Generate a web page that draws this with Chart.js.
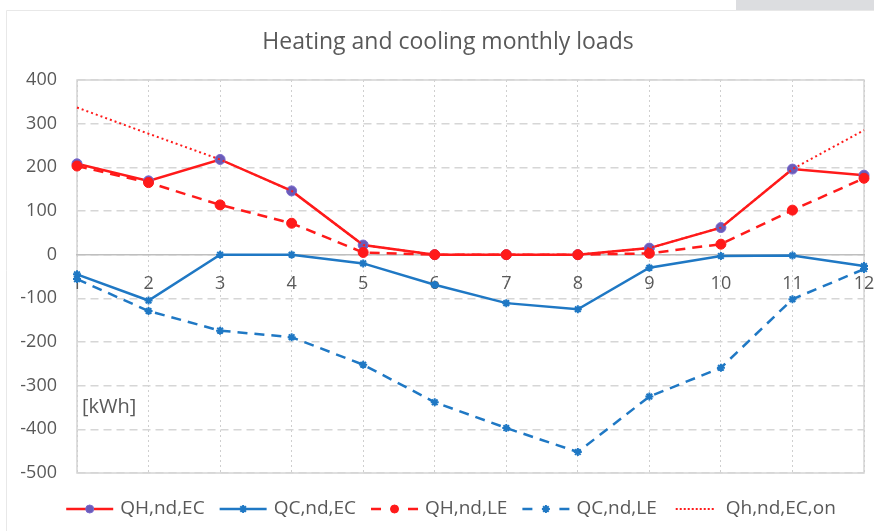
<!DOCTYPE html>
<html>
<head>
<meta charset="utf-8">
<script src="https://cdn.jsdelivr.net/npm/chart.js@4.4.1/dist/chart.umd.min.js"></script>
<style>
  html, body { margin: 0; padding: 0; background: #ffffff; }
  #wrap { width: 874px; height: 531px; position: relative; }
</style>
</head>
<body>
<div id="wrap"><canvas id="c" width="874" height="531"></canvas></div>
<script>
const months = ['1','2','3','4','5','6','7','8','9','10','11','12'];
const qhEC   = [208, 169, 218, 146, 22, 0, 0, 0, 15, 62, 196, 182];
const qcEC   = [-45, -105, 0, 0, -20, -69, -111, -125, -30, -3, -2, -26];
const qhLE   = [203, 165, 114, 72, 5, 0, 0, 0, 3, 24, 102, 175];
const qcLE   = [-56, -129, -174, -189, -252, -338, -397, -452, -325, -259, -102, -33];
const qhECon = [337, 277, 218, 146, 22, 0, 0, 0, 15, 62, 196, 285];
const seriesNames = ['QH,nd,EC', 'QC,nd,EC', 'QH,nd,LE', 'QC,nd,LE', 'Qh,nd,EC,on'];
const titleText = 'Heating and cooling monthly loads';
const unitText = '[kWh]';

const RED = '#ff1a1a';
const BLUE = '#1f78c4';
const PURPLE = '#6a5cb8';
const TXT = '#595959';
const FONT = '"Open Sans"';

const frame = {
  id: 'frame',
  beforeDraw(chart) {
    const {ctx, chartArea: a} = chart;
    ctx.save();
    ctx.fillStyle = '#ffffff';
    ctx.fillRect(0, 0, chart.width, chart.height);
    ctx.fillStyle = '#dcdde0';
    ctx.fillRect(736, 0, 138, 10);
    ctx.strokeStyle = '#e8e8e8';
    ctx.lineWidth = 1;
    ctx.beginPath();
    ctx.moveTo(6.5, 10.5); ctx.lineTo(6.5, chart.height);
    ctx.moveTo(6.5, 10.5); ctx.lineTo(chart.width, 10.5);
    ctx.stroke();
    // plot-area frame, under the scales so tick labels stay on top
    ctx.strokeStyle = '#d4d4d4';
    ctx.lineWidth = 1.5;
    ctx.strokeRect(a.left, a.top, a.right - a.left, a.bottom - a.top);
    ctx.fillStyle = TXT;
    ctx.font = '23px ' + FONT;
    ctx.textAlign = 'center';
    ctx.textBaseline = 'middle';
    ctx.fillText(titleText, 448, 42);
    ctx.restore();
  },
  beforeDatasetsDraw(chart) {
    const {ctx, chartArea: a, scales} = chart;
    ctx.save();
    ctx.fillStyle = TXT;
    ctx.font = '20px ' + FONT;
    ctx.textBaseline = 'middle';
    ctx.textAlign = 'left';
    ctx.fillText(unitText, a.left + 5, scales.y.getPixelForValue(-350));
    ctx.restore();
  },
  afterDraw(chart) {
    const ctx = chart.ctx;
    const items = chart.data.datasets;
    ctx.save();
    ctx.font = '19px ' + FONT;
    const sampleW = 47, gapST = 7, gapItem = 15;
    const widths = items.map(ds => sampleW + gapST + ctx.measureText(ds.label).width);
    const total = widths.reduce((s, w) => s + w, 0) + gapItem * (widths.length - 1);
    let x = 451 - total / 2;
    const y = 509;
    items.forEach((ds, k) => {
      ctx.strokeStyle = ds.borderColor;
      ctx.lineWidth = 2.5;
      ctx.setLineDash([]);
      if (ds.legendKind === 'solid') {
        ctx.beginPath(); ctx.moveTo(x, y); ctx.lineTo(x + sampleW, y); ctx.stroke();
      } else if (ds.legendKind === 'dash') {
        ctx.beginPath();
        ctx.moveTo(x, y); ctx.lineTo(x + 10, y);
        ctx.moveTo(x + sampleW - 10, y); ctx.lineTo(x + sampleW, y);
        ctx.stroke();
      } else {
        ctx.lineWidth = 2;
        ctx.setLineDash([2, 2]);
        ctx.beginPath(); ctx.moveTo(x + 4, y); ctx.lineTo(x + sampleW - 4, y); ctx.stroke();
        ctx.setLineDash([]);
      }
      if (ds.pointStyle && ds.pointRadius > 0) {
        ctx.fillStyle = ds.pointBackgroundColor;
        ctx.strokeStyle = ds.pointBorderColor;
        ctx.lineWidth = ds.pointBorderWidth || 1.5;
        Chart.helpers.drawPoint(ctx, {pointStyle: ds.pointStyle, rotation: 0, radius: 4, borderWidth: ds.pointBorderWidth || 1.5}, x + sampleW / 2, y);
      }
      ctx.fillStyle = TXT;
      ctx.textAlign = 'left';
      ctx.textBaseline = 'middle';
      ctx.fillText(ds.label, x + sampleW + gapST, y);
      x += widths[k] + gapItem;
    });
    ctx.restore();
  }
};

new Chart(document.getElementById('c'), {
  type: 'line',
  data: {
    labels: months,
    datasets: [
      { label: seriesNames[0], data: qhEC, borderColor: RED, borderWidth: 2.5,
        pointStyle: 'circle', pointRadius: 5, pointBackgroundColor: PURPLE, pointBorderColor: '#7a6ad0',
        pointBorderWidth: 1, tension: 0, order: 5, legendKind: 'solid' },
      { label: seriesNames[1], data: qcEC, borderColor: BLUE, borderWidth: 2.5,
        pointStyle: 'star', pointRadius: 4, pointBackgroundColor: BLUE, pointBorderColor: BLUE,
        pointBorderWidth: 2, tension: 0, order: 4, legendKind: 'solid' },
      { label: seriesNames[2], data: qhLE, borderColor: RED, borderWidth: 2.5, borderDash: [10, 7],
        pointStyle: 'circle', pointRadius: 5, pointBackgroundColor: RED, pointBorderColor: RED,
        pointBorderWidth: 1, tension: 0, order: 3, legendKind: 'dash' },
      { label: seriesNames[3], data: qcLE, borderColor: BLUE, borderWidth: 2.5, borderDash: [10, 7],
        pointStyle: 'star', pointRadius: 4, pointBackgroundColor: BLUE, pointBorderColor: BLUE,
        pointBorderWidth: 2, tension: 0, order: 2, legendKind: 'dash' },
      { label: seriesNames[4], data: qhECon, borderColor: RED, borderWidth: 2, borderDash: [2, 3],
        pointRadius: 0, pointStyle: false, tension: 0, order: 1, legendKind: 'dot' }
    ]
  },
  options: {
    responsive: false,
    animation: false,
    events: [],
    layout: { padding: { left: 10, right: 10, top: 80, bottom: 58 } },
    plugins: {
      legend: { display: false },
      tooltip: { enabled: false },
      title: { display: false }
    },
    scales: {
      x: {
        type: 'category',
        offset: false,
        position: { y: 0 },
        afterFit(s) { s.paddingLeft = 0; s.paddingRight = 0; },
        grid: { color: '#cfcfcf', lineWidth: 1, drawTicks: false },
        border: { display: true, color: '#bfbfbf', width: 1.5, dash: [2, 3] },
        ticks: { color: TXT, font: { family: FONT, size: 18 }, padding: 18, maxRotation: 0, autoSkip: false }
      },
      y: {
        min: -500, max: 400,
        afterFit(s) { s.width = 67; },
        grid: { color: '#d6d6d6', lineWidth: 1.5, drawTicks: false },
        border: { display: true, color: 'rgba(0,0,0,0)', width: 1.5, dash: [8, 5] },
        ticks: { stepSize: 100, color: TXT, font: { family: FONT, size: 18 }, padding: 20 }
      }
    }
  },
  plugins: [frame]
});
</script>
</body>
</html>
